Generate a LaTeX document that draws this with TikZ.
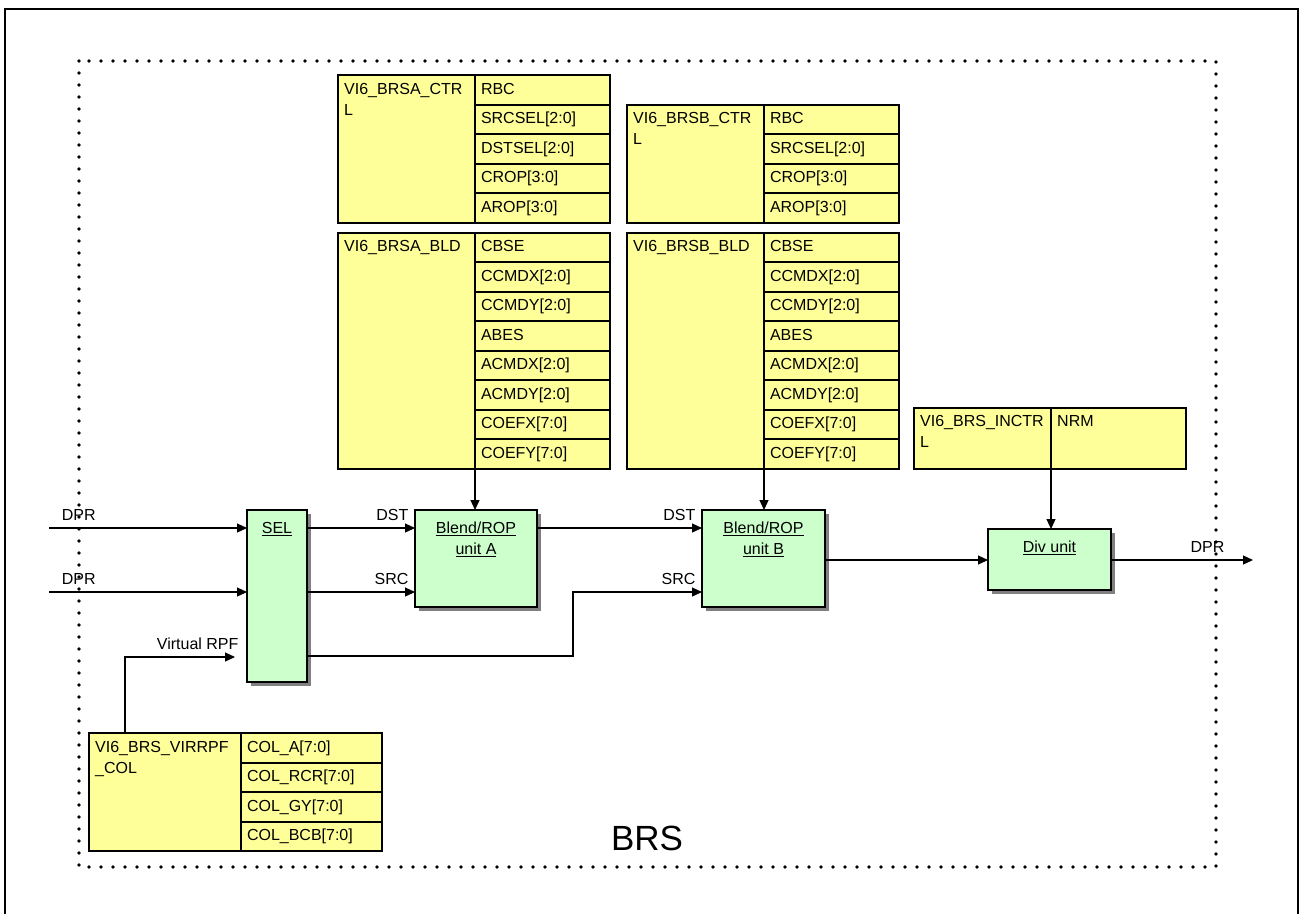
\documentclass[tikz,border=0pt]{standalone}
\usepackage{fontspec}
\setmainfont{Liberation Sans}
\usetikzlibrary{arrows.meta,positioning,shadows}
\definecolor{regyellow}{HTML}{FFFF99}
\definecolor{unitgreen}{HTML}{CCFFCC}
\tikzset{
  font=\fontsize{16}{21}\selectfont,
  regname/.style={
    draw,
    line width=2pt,
    fill=regyellow,
    outer sep=0pt,
    inner sep=0pt,
    anchor=north west,
    minimum width=137pt
  },
  namelabel/.style={
    anchor=north west,
    align=left,
    inner xsep=6pt,
    inner ysep=8pt
  },
  regfield/.style={
    draw,
    line width=2pt,
    fill=regyellow,
    outer sep=0pt,
    inner xsep=6pt,
    inner ysep=0pt,
    text width=123pt,
    align=left,
    minimum height=29.5pt,
    text height=11.5pt,
    text depth=3pt
  },
  unit/.style={
    draw,
    line width=2pt,
    fill=unitgreen,
    outer sep=0pt,
    anchor=north west,
    drop shadow={shadow xshift=4pt, shadow yshift=-4pt, fill=black!50, opacity=1}
  },
  unitlabel/.style={anchor=north, align=center, inner sep=0pt, yshift=-12pt},
  arrow/.style={-{Triangle[length=10pt,width=9pt]}, line width=1.2pt},
  sig/.style={above=6pt, inner sep=1pt},
  sigr/.style={anchor=south east, inner sep=1pt, yshift=6pt, xshift=-5pt},
  dotframe/.style={line width=3.6pt, line cap=round, dash pattern=on 0pt off 12pt}
}

\begin{document}
\begin{tikzpicture}[x=1pt, y=-1pt]
\useasboundingbox (0,0) rectangle (1300,914);

% Frames
\draw[line width=2.5pt] (5,914) -- (5,9) -- (1298,9) -- (1298,914);
\draw[dotframe] (79,61) rectangle (1216,867);
\node[font=\fontsize{35}{40}\selectfont] (brs) at (647,838) {BRS};

% Blend/ROP unit A registers
\node[regname, minimum height=147.5pt,
  label={[namelabel]north west:{VI6\_BRSA\_CTR\\L}}] (ctla) at (338,75) {};
\node[regfield, anchor=north west] (ctla1) at (ctla.north east) {RBC};
\node[regfield, below=0pt of ctla1] (ctla2) {SRCSEL[2:0]};
\node[regfield, below=0pt of ctla2] (ctla3) {DSTSEL[2:0]};
\node[regfield, below=0pt of ctla3] (ctla4) {CROP[3:0]};
\node[regfield, below=0pt of ctla4] (ctla5) {AROP[3:0]};

\node[regname, minimum height=236pt,
  label={[namelabel]north west:{VI6\_BRSA\_BLD}}] (blda) at (338,232.5) {};
\node[regfield, anchor=north west] (blda1) at (blda.north east) {CBSE};
\node[regfield, below=0pt of blda1] (blda2) {CCMDX[2:0]};
\node[regfield, below=0pt of blda2] (blda3) {CCMDY[2:0]};
\node[regfield, below=0pt of blda3] (blda4) {ABES};
\node[regfield, below=0pt of blda4] (blda5) {ACMDX[2:0]};
\node[regfield, below=0pt of blda5] (blda6) {ACMDY[2:0]};
\node[regfield, below=0pt of blda6] (blda7) {COEFX[7:0]};
\node[regfield, below=0pt of blda7] (blda8) {COEFY[7:0]};

% Blend/ROP unit B registers
\node[regname, minimum height=118pt,
  label={[namelabel]north west:{VI6\_BRSB\_CTR\\L}}] (ctlb) at (627,104.5) {};
\node[regfield, anchor=north west] (ctlb1) at (ctlb.north east) {RBC};
\node[regfield, below=0pt of ctlb1] (ctlb2) {SRCSEL[2:0]};
\node[regfield, below=0pt of ctlb2] (ctlb3) {CROP[3:0]};
\node[regfield, below=0pt of ctlb3] (ctlb4) {AROP[3:0]};

\node[regname, minimum height=236pt,
  label={[namelabel]north west:{VI6\_BRSB\_BLD}}] (bldb) at (627,232.5) {};
\node[regfield, anchor=north west] (bldb1) at (bldb.north east) {CBSE};
\node[regfield, below=0pt of bldb1] (bldb2) {CCMDX[2:0]};
\node[regfield, below=0pt of bldb2] (bldb3) {CCMDY[2:0]};
\node[regfield, below=0pt of bldb3] (bldb4) {ABES};
\node[regfield, below=0pt of bldb4] (bldb5) {ACMDX[2:0]};
\node[regfield, below=0pt of bldb5] (bldb6) {ACMDY[2:0]};
\node[regfield, below=0pt of bldb6] (bldb7) {COEFX[7:0]};
\node[regfield, below=0pt of bldb7] (bldb8) {COEFY[7:0]};

% Div unit register
\node[regname, minimum height=61pt,
  label={[namelabel]north west:{VI6\_BRS\_INCTR\\L}}] (inctrl) at (914,407.5) {};
\node[regname, minimum width=135pt, minimum height=61pt,
  label={[namelabel]north west:{NRM}}] (nrm) at (inctrl.north east) {};

% Virtual RPF colour register
\node[regname, minimum width=152pt, minimum height=118pt,
  label={[namelabel]north west:{VI6\_BRS\_VIRRPF\\\_COL}}] (virrpf) at (89,733) {};
\node[regfield, text width=129pt, anchor=north west] (virrpf1) at (virrpf.north east) {COL\_A[7:0]};
\node[regfield, text width=129pt, below=0pt of virrpf1] (virrpf2) {COL\_RCR[7:0]};
\node[regfield, text width=129pt, below=0pt of virrpf2] (virrpf3) {COL\_GY[7:0]};
\node[regfield, text width=129pt, below=0pt of virrpf3] (virrpf4) {COL\_BCB[7:0]};

% Processing units
\node[unit, minimum width=60pt, minimum height=172pt,
  label={[unitlabel]north:\underline{SEL}}] (sel) at (247,510) {};
\node[unit, minimum width=122pt, minimum height=97pt,
  label={[unitlabel]north:{\underline{Blend/ROP}\\\underline{unit A}}}] (blenda) at (415,510) {};
\node[unit, minimum width=123pt, minimum height=97pt,
  label={[unitlabel]north:{\underline{Blend/ROP}\\\underline{unit B}}}] (blendb) at (702,510) {};
\node[unit, minimum width=123pt, minimum height=61pt,
  label={[unitlabel]north:\underline{Div unit}}] (divu) at (988,529) {};

% Signal levels
\coordinate (dst) at (0,528);
\coordinate (src) at (0,592);
\coordinate (bypass) at (0,656);
\coordinate (mix) at (0,560);
\coordinate (dpra) at (49,528);
\coordinate (dprb) at (49,592);
\coordinate (dprout) at (1253,560);
\coordinate (vtap) at (125,733);
\coordinate (vend) at (235,657);
\coordinate (jog) at (573,656);

% Data paths
\draw[arrow] (dpra) -- node[pos=0.15, sig] (dpralbl) {DPR} (dpra -| sel.west);
\draw[arrow] (dprb) -- node[pos=0.15, sig] (dprblbl) {DPR} (dprb -| sel.west);
\draw[arrow] (vtap) |- node[pos=1, sigr, xshift=10pt] (vrpflbl) {Virtual RPF} (vend);
\draw[arrow] (sel.east |- dst) -- node[pos=1, sigr] (dstalbl) {DST} (blenda.west |- dst);
\draw[arrow] (sel.east |- src) -- node[pos=1, sigr] (srcalbl) {SRC} (blenda.west |- src);
\draw[arrow] (blenda.east |- dst) -- node[pos=1, sigr] (dstblbl) {DST} (blendb.west |- dst);
\draw[arrow] (sel.east |- bypass) -- (jog) |- node[pos=1, sigr] (srcblbl) {SRC} (blendb.west |- src);
\draw[arrow] (blendb.east |- mix) -- (divu.west |- mix);
\draw[arrow] (divu.east |- mix) -- node[pos=0.68, sig] (dprolbl) {DPR} (dprout);

% Register controls
\draw[arrow] (blda.south east) -- (blda.south east |- blenda.north);
\draw[arrow] (bldb.south east) -- (bldb.south east |- blendb.north);
\draw[arrow] (inctrl.south east) -- (inctrl.south east |- divu.north);

\end{tikzpicture}
\end{document}
